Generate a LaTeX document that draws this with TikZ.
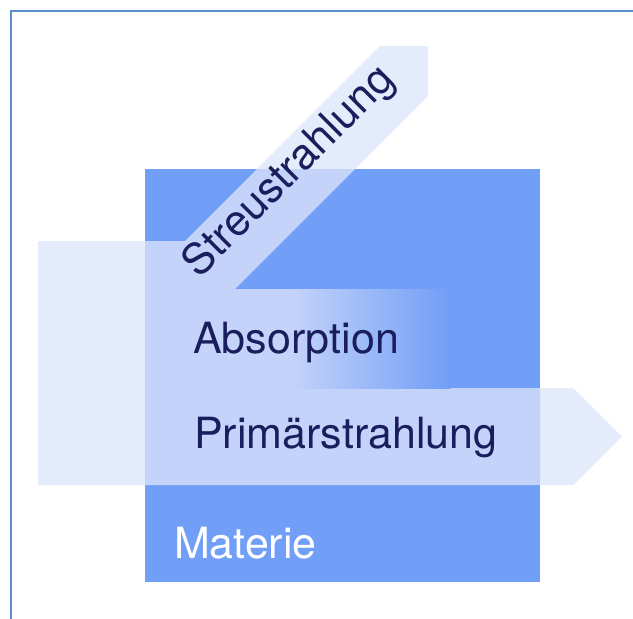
\documentclass[tikz,border=0pt]{standalone}
\usepackage{fontspec}
\setmainfont{TeX Gyre Heros}
\definecolor{sq}{RGB}{113,158,246}
\definecolor{lout}{RGB}{228,236,251}
\definecolor{lin}{RGB}{196,211,250}
\definecolor{navy}{RGB}{26,30,92}
\definecolor{frame}{RGB}{92,143,202}
\tikzset{
  lbl/.style={inner sep=0pt, outer sep=0pt, font=\fontsize{43}{50}\selectfont},
}
\begin{document}
\begin{tikzpicture}[x=1pt,y=-1pt]
\useasboundingbox (0,0) rectangle (633,619);
\fill[white] (0,0) rectangle (633,619);
\draw[frame, line width=2.2pt] (11,619) -- (11,11) -- (633,11);
% ray shape (outside colour)
\def\raypath{(38,241) -- (185,241) -- (380,46) -- (428,46) -- (428,96) -- (235,289) -- (292,289) -- (292,388) -- (573.5,388) -- (622,436.5) -- (573.5,485) -- (38,485) -- cycle}
\fill[lout] \raypath;
% material
\fill[sq] (145,169) rectangle (540,582);
% ray inside material
\begin{scope}
  \clip (145,169) rectangle (540,582);
  \fill[lin] \raypath;
\end{scope}
% absorption fade
\shade[left color=lin, right color=sq] (291,289) rectangle (450,388);
% labels
\node[lbl, navy, anchor=base west, rotate=45] (streu) at (199,279) {Streustrahlung};
\node[lbl, navy, anchor=base west] (abs) at (193,353) {Absorption};
\node[lbl, navy, anchor=base west] (prim) at (194,448) {Primärstrahlung};
\node[lbl, white, anchor=base west] (mat) at (174,558) {Materie};
\end{tikzpicture}
\end{document}
